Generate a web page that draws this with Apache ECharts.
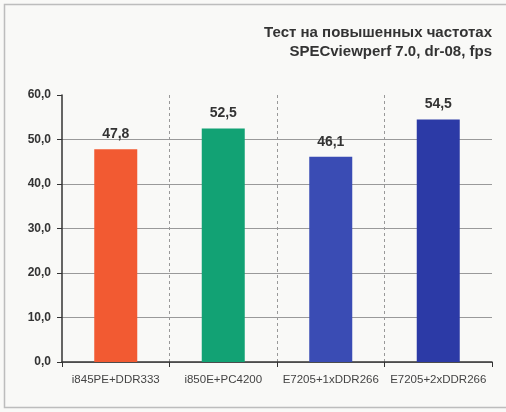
<!DOCTYPE html>
<html><head><meta charset="utf-8">
<script src="https://cdn.jsdelivr.net/npm/echarts@6/dist/echarts.min.js"></script>
<style>html,body{margin:0;padding:0;background:#f9f9f7;}#c{width:506px;height:412px;}</style>
</head><body><div id="c"></div>
<script>
var categories = ['i845PE+DDR333', 'i850E+PC4200', 'E7205+1xDDR266', 'E7205+2xDDR266'];
var values = [47.8, 52.5, 46.1, 54.5];
var barColors = ['#f25a32', '#12a274', '#3a4cb4', '#2c3aa6'];
var titleLines = ['Тест на повышенных частотах', 'SPECviewperf 7.0, dr-08, fps'];

var FONT = 'Liberation Sans, Arial, sans-serif';
var chart = echarts.init(document.getElementById('c'));
chart.setOption({
  backgroundColor: '#f9f9f7',
  graphic: [
    {type:'rect', shape:{x:4.5,y:4.5,width:510,height:403}, style:{fill:'none', stroke:'#bdbdbd', lineWidth:1.5}},
    {type:'text', right: 14, top: 25, style:{text: titleLines[0], font: 'bold 15px ' + FONT, fill:'#333', textAlign:'right'}},
    {type:'text', right: 14, top: 44, style:{text: titleLines[1], font: 'bold 15px ' + FONT, fill:'#333', textAlign:'right'}}
  ],
  grid: {left: 62, right: 14, top: 95, bottom: 50},
  xAxis: {
    type: 'category', data: categories,
    axisLine: {lineStyle: {color: '#333', width: 1.5}},
    axisTick: {show: true, length: 5, interval: 0, lineStyle: {color:'#333'}},
    axisLabel: {fontFamily: FONT, fontSize: 11.5, color: '#444', margin: 12, interval: 0},
    splitLine: {show: true, interval: 0, showMinLine: false, showMaxLine: false, lineStyle: {color: '#999', type: [3, 3], width: 1}}
  },
  yAxis: {
    type: 'value', min: 0, max: 60, interval: 10,
    axisLine: {show: true, lineStyle: {color: '#333', width: 1.5}},
    axisTick: {show: true, length: 5, lineStyle: {color:'#333'}},
    axisLabel: {fontFamily: FONT, fontSize: 12, fontWeight: 'bold', color: '#333', margin: 11,
      formatter: function(v){ return v.toFixed(1).replace('.', ','); }},
    splitLine: {showMaxLine: false, lineStyle: {color: '#9a9a9a', width: 1}}
  },
  series: [{
    type: 'bar', barWidth: '40%',
    data: values.map(function(v,i){ return {value: v, itemStyle: {color: barColors[i]}}; }),
    label: {show: true, position: 'top', distance: 8, fontFamily: FONT, fontSize: 14, fontWeight: 'bold', color: '#333',
      formatter: function(p){ return p.value.toFixed(1).replace('.', ','); }}
  }]
});
</script></body></html>
